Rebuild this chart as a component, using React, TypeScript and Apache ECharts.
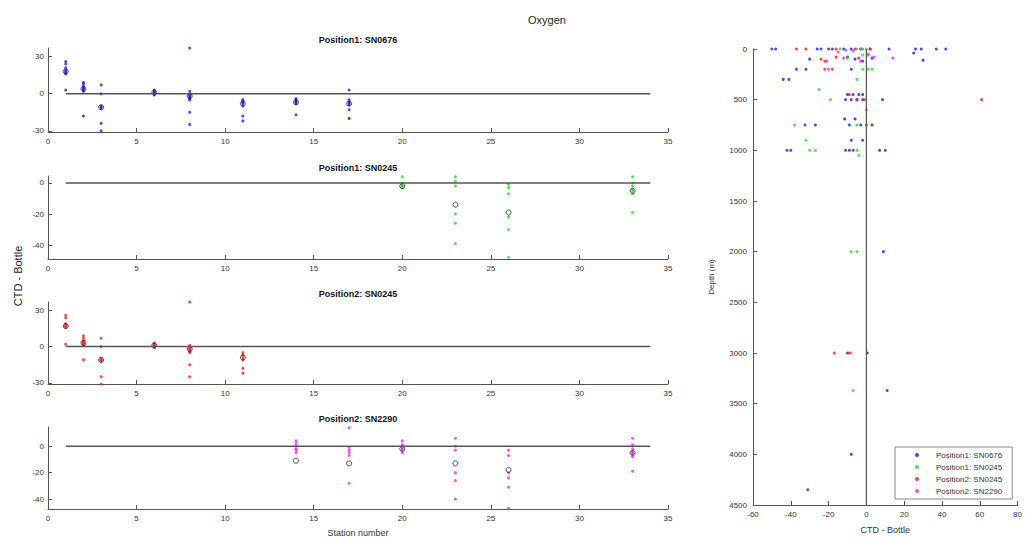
import React, { useEffect, useRef } from "react";
import * as echarts from "echarts";

// ---- Station panels (CTD - Bottle oxygen per station) ----
const STATIONS_P1 = [1, 2, 3, 6, 8, 11, 14, 17];
const VALUES_P1 = [
  [26, 24, 21, 19, 18, 17, 16, 3],
  [9, 8, 6, 5, 4, 3, 2, -18],
  [7, 0, -10, -11, -12, -24, -30],
  [3, 2, 1, 1, 0, 0, -1],
  [37, 2, 0, -1, -2, -3, -4, -5, -15, -25],
  [-5, -6, -7, -8, -10, -18, -22],
  [-4, -5, -6, -7, -8, -17],
  [3, -5, -7, -8, -9, -13, -20],
];
const MEANS_P1 = [18, 4, -11, 1, -2, -8, -7, -8];

const STATIONS_P2 = [20, 23, 26, 33];
const VALUES_P2 = [
  [4, 0, -1, -2, -3],
  [4, 1, -2, -20, -26, -39],
  [-1, -3, -7, -22, -30, -48],
  [4, 0, -2, -4, -5, -7, -19],
];
const MEANS_P2 = [-2, -14, -19, -5];

const STATIONS_P3 = [1, 2, 3, 6, 8, 11];
const VALUES_P3 = [
  [26, 24, 19, 18, 17, 16, 2],
  [9, 7, 5, 4, 3, 2, 1, -11],
  [7, 0, -10, -11, -12, -25, -31],
  [3, 2, 1, 0, 0, -1],
  [37, 1, -1, -2, -3, -4, -5, -15, -25],
  [-5, -7, -9, -11, -18, -22],
];
const MEANS_P3 = [17, 3, -11, 1, -2, -9];

const STATIONS_P4 = [14, 17, 20, 23, 26, 33];
const VALUES_P4 = [
  [4, 2, 0, -2, -3, -5],
  [14, -1, -3, -5, -7, -28],
  [4, 1, 0, -1, -2, -3, -5],
  [6, 0, -3, -20, -26, -40],
  [-3, -7, -20, -24, -31, -47],
  [6, 1, -2, -4, -5, -6, -8, -19],
];
const MEANS_P4 = [-11, -13, -2, -13, -18, -5];

const ZERO_LINE_STATIONS = [1, 34];

// ---- Depth profile: [CTD - Bottle, depth (m)] ----
const DEPTH_SN0676_P1 = [
  [-50, 0], [-48, 0], [-26, 0], [-24, 0], [-20, 0], [-18, 0], [-12, 0], [-8, 0], [-3, 0],
  [2, 0], [12, 0], [26, 0], [29, 0], [37, 0], [42, 0], [25, 40], [-30, 100], [-10, 80],
  [-6, 100], [-2, 120], [3, 90], [30, 110], [-37, 200], [-32, 200], [-8, 200], [-44, 300],
  [-41, 300], [-10, 450], [-7, 450], [-4, 450], [-2, 450], [-11, 500], [-8, 500], [-5, 500],
  [-2, 500], [8.5, 500], [-11.5, 690], [-6, 690], [-32.5, 750], [-27, 750], [-9, 750],
  [-3, 750], [3, 750], [-8, 900], [-2, 900], [-42, 1000], [-40, 1000], [-11, 1000],
  [-9, 1000], [-7, 1000], [7, 1000], [10, 1000], [9, 2000], [-10, 3000], [0.5, 3000],
  [11, 3370], [-8, 4000], [-31, 4350],
];
const DEPTH_SN0245_P1 = [
  [-14, 0], [-5, 0], [-3, 0], [0, 0], [-2, 60], [1, 50], [-10, 90], [-2, 200], [1, 200],
  [3, 200], [-5, 300], [-25, 400], [-19, 500], [0, 600], [-38, 750], [-5, 750], [-32, 900],
  [-30, 1000], [-27, 1000], [-5, 1000], [-4, 1050], [-8, 2000], [-5, 2000], [-8, 3000],
  [-7, 3370],
];
const DEPTH_SN0245_P2 = [
  [-37, 0], [-32, 0], [-16, 0], [-6, 0], [2, 0], [-24, 100], [-22, 120], [-16, 80], [-4, 90],
  [-22, 200], [-18, 200], [-9, 450], [-5, 500], [-1, 500], [0, 750], [61, 500], [-17, 3000],
  [-9, 3000],
];
const DEPTH_SN2290_P2 = [
  [-15, 30], [-11, 10], [-7, 20], [-2, 0], [1, 60], [4, 80], [14, 90], [-21, 120], [-12, 90],
  [-3, 120], [-20, 200],
];
const ZERO_LINE_DEPTHS = [0, 4500];

const NAMES = ["Position1: SN0676", "Position1: SN0245", "Position2: SN0245", "Position2: SN2290"];
const COLORS = ["#1a1aff", "#22dd22", "#ff1a1a", "#ff22ff"];

const FONT = "Liberation Sans, Arial, sans-serif";
const AXIS_COLOR = "#555";
const LABEL_COLOR = "#333";

const panels = [
  { title: NAMES[0], color: COLORS[0], stations: STATIONS_P1, values: VALUES_P1, means: MEANS_P1, min: -31, max: 37, ticks: [-30, 0, 30], top: 48, height: 84 },
  { title: NAMES[1], color: COLORS[1], stations: STATIONS_P2, values: VALUES_P2, means: MEANS_P2, min: -49, max: 4.5, ticks: [-40, -20, 0], top: 176, height: 83 },
  { title: NAMES[2], color: COLORS[2], stations: STATIONS_P3, values: VALUES_P3, means: MEANS_P3, min: -31, max: 37, ticks: [-30, 0, 30], top: 302, height: 82 },
  { title: NAMES[3], color: COLORS[3], stations: STATIONS_P4, values: VALUES_P4, means: MEANS_P4, min: -47.5, max: 14.5, ticks: [-40, -20, 0], top: 427, height: 82 },
];

function buildOption() {
  const grid: any[] = [];
  const xAxis: any[] = [];
  const yAxis: any[] = [];
  const series: any[] = [];
  const graphic: any[] = [];

  const axisLine = { show: true, onZero: false, lineStyle: { color: AXIS_COLOR, width: 1 } };
  const axisLabel = { fontSize: 8, color: LABEL_COLOR, fontFamily: FONT, formatter: (v: number) => String(v) };

  panels.forEach((p, i) => {
    grid.push({ left: 48, top: p.top, width: 620, height: p.height });
    xAxis.push({
      gridIndex: i, type: "value", min: 0, max: 35, interval: 5,
      axisLine, axisTick: { inside: true, length: 4, lineStyle: { color: AXIS_COLOR } },
      axisLabel: { ...axisLabel, margin: 5 }, splitLine: { show: false },
    });
    yAxis.push({
      gridIndex: i, type: "value", min: p.min, max: p.max,
      axisLine,
      axisTick: { inside: true, length: 4, customValues: p.ticks, lineStyle: { color: AXIS_COLOR } },
      axisLabel: { ...axisLabel, margin: 4, customValues: p.ticks },
      splitLine: { show: false },
    });
    series.push({
      type: "line", xAxisIndex: i, yAxisIndex: i, symbol: "none", silent: true,
      data: [[ZERO_LINE_STATIONS[0], 0], [ZERO_LINE_STATIONS[1], 0]],
      lineStyle: { color: "#555", width: 1.5 },
    });
    series.push({
      name: p.title, type: "scatter", xAxisIndex: i, yAxisIndex: i,
      symbolSize: 3, itemStyle: { color: p.color },
      data: p.stations.flatMap((s, k) => p.values[k].map((v) => [s, v])),
    });
    series.push({
      type: "scatter", xAxisIndex: i, yAxisIndex: i, symbol: "circle", symbolSize: 5,
      itemStyle: { color: "rgba(0,0,0,0)", borderColor: "#222", borderWidth: 1 },
      data: p.stations.map((s, k) => [s, p.means[k]]),
    });
    graphic.push({
      type: "text", x: 358, y: p.top - 8,
      style: { text: p.title, font: `bold 9px ${FONT}`, fill: "#111", align: "center", textAlign: "center", verticalAlign: "middle", textVerticalAlign: "middle" },
    });
  });

  // depth profile panel
  grid.push({ left: 753, top: 49, width: 267, height: 461 });
  xAxis.push({
    gridIndex: 4, type: "value", min: -60, max: 80, interval: 20,
    axisLine, axisTick: { inside: true, length: 4, lineStyle: { color: AXIS_COLOR } },
    axisLabel: { ...axisLabel, margin: 5 }, splitLine: { show: false },
    name: "CTD - Bottle", nameLocation: "middle", nameGap: 20,
    nameTextStyle: { fontSize: 9, color: LABEL_COLOR, fontFamily: FONT },
  });
  yAxis.push({
    gridIndex: 4, type: "value", inverse: true, min: 0, max: 4500, interval: 500,
    axisLine, axisTick: { inside: true, length: 4, lineStyle: { color: AXIS_COLOR } },
    axisLabel: { ...axisLabel, margin: 6 }, splitLine: { show: false },
    name: "Depth (m)", nameLocation: "middle", nameGap: 38,
    nameTextStyle: { fontSize: 8, color: LABEL_COLOR, fontFamily: FONT },
  });
  series.push({
    type: "line", xAxisIndex: 4, yAxisIndex: 4, symbol: "none", silent: true,
    data: [[0, ZERO_LINE_DEPTHS[0]], [0, ZERO_LINE_DEPTHS[1]]],
    lineStyle: { color: "#555", width: 1.2 },
  });
  [DEPTH_SN0676_P1, DEPTH_SN0245_P1, DEPTH_SN0245_P2, DEPTH_SN2290_P2].forEach((d, i) => {
    series.push({
      name: NAMES[i], type: "scatter", xAxisIndex: 4, yAxisIndex: 4,
      symbolSize: 3, itemStyle: { color: COLORS[i] }, data: d,
    });
  });

  graphic.push(
    { type: "text", x: 547, y: 20, style: { text: "Oxygen", font: `11px ${FONT}`, fill: "#222", align: "center", textAlign: "center", verticalAlign: "middle", textVerticalAlign: "middle" } },
    { type: "text", x: 358, y: 533, style: { text: "Station number", font: `9px ${FONT}`, fill: LABEL_COLOR, align: "center", textAlign: "center", verticalAlign: "middle", textVerticalAlign: "middle" } },
    { type: "text", x: 18, y: 276, rotation: Math.PI / 2, style: { text: "CTD - Bottle", font: `11px ${FONT}`, fill: "#222", align: "center", textAlign: "center", verticalAlign: "middle", textVerticalAlign: "middle" } },
  );

  return {
    animation: false,
    backgroundColor: "#fff",
    textStyle: { fontFamily: FONT },
    grid, xAxis, yAxis, series, graphic,
    legend: {
      data: NAMES, orient: "vertical", left: 895, top: 447,
      selectedMode: false, icon: "circle", itemWidth: 4, itemHeight: 4, itemGap: 4,
      padding: [4, 10, 4, 20], borderColor: "#888", borderWidth: 1, backgroundColor: "#fff",
      textStyle: { fontSize: 8, color: LABEL_COLOR, fontFamily: FONT, padding: [0, 0, 0, 12] },
    },
  };
}

export default function App() {
  const ref = useRef<HTMLDivElement>(null);
  useEffect(() => {
    const chart = echarts.init(ref.current!, null, { renderer: "svg" });
    chart.setOption(buildOption() as any);
    return () => chart.dispose();
  }, []);
  return (
    <div
      ref={ref}
      style={{ position: "absolute", left: 0, top: 0, width: 1025, height: 539, background: "#fff" }}
    />
  );
}
